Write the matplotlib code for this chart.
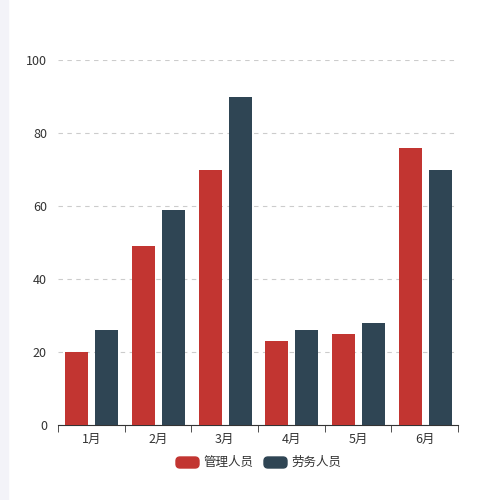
import matplotlib.pyplot as plt
import numpy as np
from matplotlib.patches import Rectangle, FancyBboxPatch

plt.rcParams['font.family'] = ['Noto Sans CJK SC', 'DejaVu Sans']

months = ['1月', '2月', '3月', '4月', '5月', '6月']
guanli = [20, 49, 70, 23, 25, 76]
laowu = [26, 59, 90, 26, 28, 70]
series_names = ['管理人员', '劳务人员']
colors = ['#c23531', '#2f4554']

fig = plt.figure(figsize=(5, 5), dpi=100)
fig.patches.append(Rectangle((0, 0), 0.016, 1, transform=fig.transFigure,
                             color='#f3f3f8', zorder=0))
ax = fig.add_axes([0.116, 0.15, 0.8, 0.73])

x = np.arange(len(months))
ax.bar(x - 0.217, guanli, width=0.345, color=colors[0], zorder=3)
ax.bar(x + 0.232, laowu, width=0.345, color=colors[1], zorder=3)

ax.set_xlim(-0.5, len(months) - 0.5)
ax.set_ylim(0, 100)
ax.set_yticks(range(0, 101, 20))
ax.yaxis.grid(True, linestyle=(0, (4, 4)), color='#cccccc', linewidth=0.8)
ax.set_xticks(x)
ax.set_xticklabels(months)
ax.set_xticks(np.arange(-0.5, len(months)), minor=True)
ax.tick_params(axis='x', which='major', length=0, labelsize=9, colors='#333333', pad=6)
ax.tick_params(axis='x', which='minor', length=5, color='#333333')
ax.tick_params(axis='y', length=0, labelsize=9, colors='#333333', pad=8)
for s in ['top', 'right', 'left']:
    ax.spines[s].set_visible(False)
ax.spines['bottom'].set_color('#333333')

# legend
lx = 0.5
for i, name in enumerate(series_names):
    x0 = [0.352, 0.528][i]
    fig.patches.append(FancyBboxPatch((x0, 0.064), 0.046, 0.022,
                                      boxstyle='round,pad=0,rounding_size=0.008',
                                      transform=fig.transFigure, color=colors[i]))
    fig.text(x0 + 0.054, 0.075, name, fontsize=9, color='#333333', va='center')

fig.savefig('out.png')
